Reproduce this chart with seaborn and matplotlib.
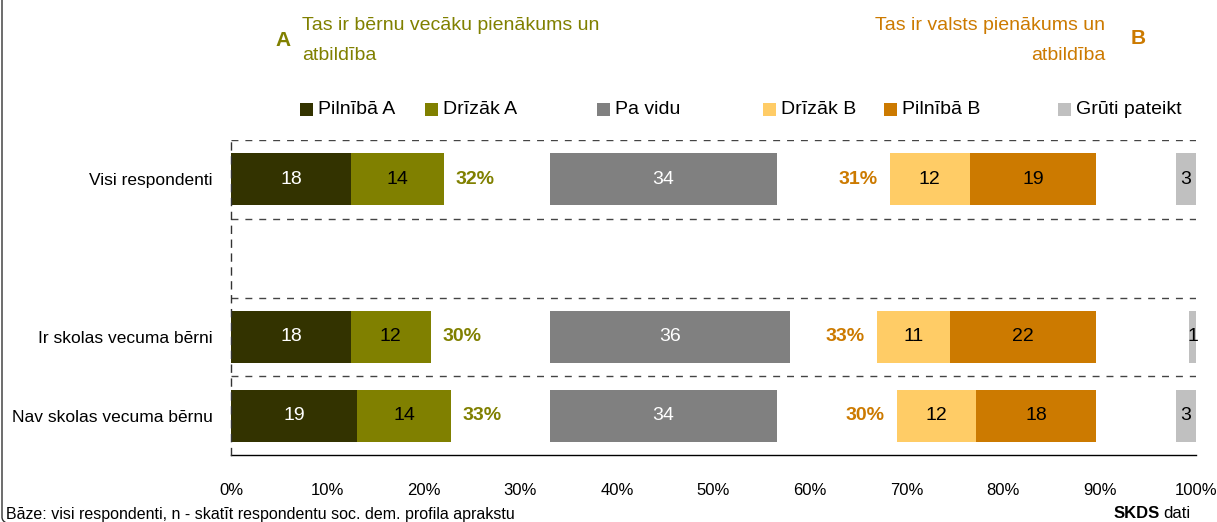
import numpy as np
import pandas as pd
import matplotlib
matplotlib.use("Agg")
import matplotlib.pyplot as plt
import seaborn as sns
from matplotlib.patches import Rectangle, FancyBboxPatch
from matplotlib.ticker import FixedLocator

# --- data ---
categories = ["Visi respondenti", "Ir skolas vecuma bērni", "Nav skolas vecuma bērnu"]
pilniba_a = [18, 18, 19]
drizak_a = [14, 12, 14]
pa_vidu = [34, 36, 34]
drizak_b = [12, 11, 12]
pilniba_b = [19, 22, 18]
gruti = [3, 1, 3]
total_a = [32, 30, 33]
total_b = [31, 33, 30]

series_names = ["Pilnībā A", "Drīzāk A", "Pa vidu", "Drīzāk B", "Pilnībā B", "Grūti pateikt"]
colors = ["#333300", "#808000", "#808080", "#FFCC66", "#CC7A00", "#C0C0C0"]
text_colors = ["white", "black", "white", "black", "black", "black"]
OLIVE = "#808000"
ORANGE = "#CC7A00"

# layout of the "gapped" stacked bar (in value units)
MID_START = 48   # where "Pa vidu" starts
B_END = 130      # where the B block ends
AXIS_TOTAL = 145 # full axis width = 100%

W, H = 1217, 522

def fx(x):
    return x / W

def fy(y):
    return 1 - y / H

sns.set_style("white")
plt.rcParams["font.family"] = ["Liberation Sans", "DejaVu Sans"]
plt.rcParams["text.color"] = "black"
plt.rcParams["xtick.color"] = "black"
plt.rcParams["ytick.color"] = "black"

order = [categories[0], " ", categories[1], categories[2]]

# build segments: value segments with invisible spacers between the blocks
seg_vals = []
for i in range(len(categories)):
    a = pilniba_a[i] + drizak_a[i]
    b = drizak_b[i] + pilniba_b[i]
    gap1 = MID_START - a
    gap2 = B_END - MID_START - pa_vidu[i] - b
    gap3 = AXIS_TOTAL - B_END - gruti[i]
    seg_vals.append([pilniba_a[i], drizak_a[i], gap1, pa_vidu[i], gap2,
                     drizak_b[i], pilniba_b[i], gap3, gruti[i]])
seg_cols = [colors[0], colors[1], "white", colors[2], "white",
            colors[3], colors[4], "white", colors[5]]
seg_series = [0, 1, None, 2, None, 3, 4, None, 5]

seg_vals = np.array(seg_vals, dtype=float)
ends = np.cumsum(seg_vals, axis=1)

fig = plt.figure(figsize=(W / 100, H / 100), dpi=100)
ax = fig.add_axes([fx(231), fy(455), (1196 - 231) / W, (455 - 140) / H])

# draw the stacked bars as layered cumulative bars (last segment first)
for k in range(seg_vals.shape[1] - 1, -1, -1):
    df = pd.DataFrame({"cat": categories, "end": ends[:, k]})
    sns.barplot(data=df, x="end", y="cat", order=order, color=seg_cols[k],
                saturation=1, width=0.66, linewidth=0, ax=ax, orient="h")

# value labels inside segments
ypos = [0, 2, 3]
for i in range(len(categories)):
    for k in range(seg_vals.shape[1]):
        s = seg_series[k]
        if s is None:
            continue
        start = ends[i, k] - seg_vals[i, k]
        ax.text(start + seg_vals[i, k] / 2, ypos[i], f"{int(seg_vals[i, k])}",
                ha="center", va="center", fontsize=14, color=text_colors[s])
    a_end = pilniba_a[i] + drizak_a[i]
    ax.text(a_end + 1.8, ypos[i], f"{total_a[i]}%", ha="left", va="center",
            fontsize=14, fontweight="bold", color=OLIVE)
    b_start = B_END - drizak_b[i] - pilniba_b[i]
    ax.text(b_start - 1.8, ypos[i], f"{total_b[i]}%", ha="right", va="center",
            fontsize=14, fontweight="bold", color=ORANGE)

# axes styling
ax.set_xlim(0, AXIS_TOTAL)
ax.set_ylim(3.5, -0.5)
ax.set_xlabel("")
ax.set_ylabel("")
ax.set_xticks(np.linspace(0, AXIS_TOTAL, 11))
ax.set_xticklabels([f"{p}%" for p in range(0, 101, 10)], fontsize=12)
ax.tick_params(axis="x", direction="out", length=6, width=1, color="black", pad=14)
ax.tick_params(axis="y", which="major", length=0, pad=13, labelsize=12.5)
ax.yaxis.set_minor_locator(FixedLocator([-0.5, 0.5, 1.5, 2.5, 3.5]))
ax.tick_params(axis="y", which="minor", direction="inout", length=12, width=1, color="#333333")
ax.grid(False)
for yb in [-0.5, 0.5, 1.5, 2.5]:
    ax.axhline(yb, color="#444444", linewidth=1, linestyle=(0, (5, 5)), zorder=0.5)
for side in ["top", "right"]:
    ax.spines[side].set_visible(False)
ax.spines["bottom"].set_color("black")
ax.spines["bottom"].set_linewidth(1)
ax.spines["left"].set_color("#333333")
ax.spines["left"].set_linewidth(1)
ax.spines["left"].set_linestyle((0, (5, 5)))
ax.spines["left"].set_zorder(3)

# headers
fig.text(fx(283), fy(40), "A", ha="center", va="center", fontsize=15,
         fontweight="bold", color=OLIVE)
fig.text(fx(302), fy(17), "Tas ir bērnu vecāku pienākums un\natbildība", ha="left",
         va="top", fontsize=14, color=OLIVE, linespacing=2.0)
fig.text(fx(1105), fy(17), "Tas ir valsts pienākums un\natbildība", ha="right",
         va="top", fontsize=14, color=ORANGE, linespacing=2.0, multialignment="right")
fig.text(fx(1138), fy(38), "B", ha="center", va="center", fontsize=15,
         fontweight="bold", color=ORANGE)

# legend (manual, irregular spacing as in the original)
legend_x = [300, 425, 597, 763, 884, 1058]
for name, col, lx in zip(series_names, colors, legend_x):
    fig.add_artist(Rectangle((fx(lx), fy(116)), 13 / W, 13 / H, transform=fig.transFigure,
                             facecolor=col, edgecolor="none"))
    fig.text(fx(lx + 18), fy(109), name, ha="left", va="center", fontsize=14)

# footer
fig.text(fx(6), fy(514), "Bāze: visi respondenti, n - skatīt respondentu soc. dem. profila aprakstu",
         ha="left", va="center", fontsize=11.5)
fig.text(fx(1160), fy(514), "SKDS", ha="right", va="center", fontsize=12, fontweight="bold")
fig.text(fx(1163), fy(514), "dati", ha="left", va="center", fontsize=12)

# frame (only left edge with rounded corner is visible)
fig.add_artist(FancyBboxPatch((fx(2), fy(525)), 1.2, 1.2, boxstyle="round,pad=0,rounding_size=0.015",
                              transform=fig.transFigure, facecolor="none", edgecolor="#333333",
                              linewidth=1, clip_on=False))

fig.savefig("out.png", dpi=100)
